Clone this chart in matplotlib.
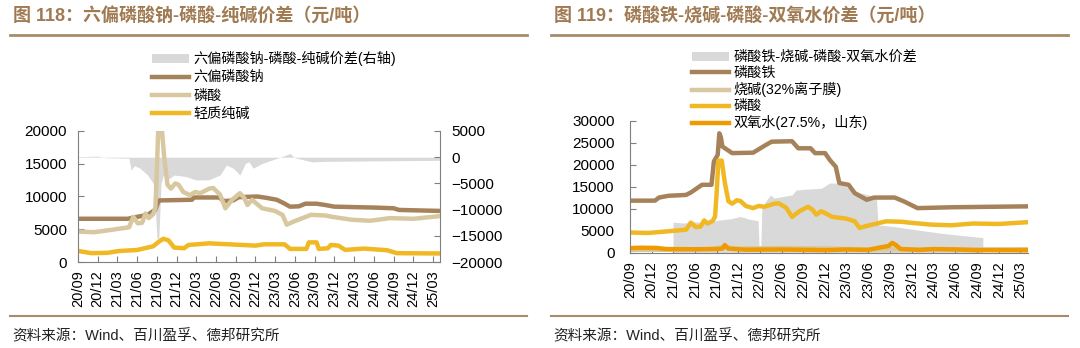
import matplotlib
matplotlib.use('Agg')
import matplotlib.pyplot as plt
import matplotlib.dates as mdates
from matplotlib.patches import Patch
from matplotlib.lines import Line2D
import pandas as pd

plt.rcParams['font.family'] = ['Liberation Sans', 'Noto Sans CJK SC']

# ---------------- data: left chart (图118) ----------------
shmp_dates = ['2020-09-01', '2021-04-20', '2021-05-10', '2021-07-20', '2021-08-25', '2021-09-05',
              '2021-09-12', '2022-02-10', '2022-02-20', '2022-06-15', '2022-07-10', '2022-08-20',
              '2022-09-15', '2022-12-10', '2023-01-20', '2023-03-10', '2023-04-10', '2023-05-10',
              '2023-06-20', '2023-07-20', '2023-09-10', '2023-10-20', '2023-12-01', '2024-06-15',
              '2024-09-01', '2024-09-25', '2025-03-31']
shmp_vals = [6600, 6600, 6750, 7200, 8000, 9000, 9400, 9500, 9850, 9850, 9300, 9400,
             9900, 10000, 9800, 9500, 9000, 8450, 8500, 8900, 8900, 8700, 8450, 8300,
             8200, 7950, 7800]

pa_dates = ['2020-09-01', '2020-11-15', '2021-02-01', '2021-04-15', '2021-04-25', '2021-05-15',
            '2021-06-05', '2021-06-25', '2021-07-10', '2021-07-25', '2021-08-15', '2021-08-25',
            '2021-09-01', '2021-09-08', '2021-09-22', '2021-10-05', '2021-10-20', '2021-11-05',
            '2021-11-25', '2021-12-10', '2022-01-01', '2022-02-01', '2022-02-25', '2022-03-20',
            '2022-05-01', '2022-05-20', '2022-06-20', '2022-07-15', '2022-08-15', '2022-09-20',
            '2022-10-10', '2022-10-25', '2022-11-15', '2023-01-01', '2023-03-01', '2023-04-05',
            '2023-04-25', '2023-05-25', '2023-08-15', '2023-10-20', '2023-11-20', '2024-02-20',
            '2024-05-15', '2024-08-15', '2024-12-01', '2025-03-31']
pa_vals = [4650, 4550, 4900, 5250, 5300, 6900, 5900, 6000, 7400, 6700, 7300, 8300,
           14000, 21000, 21000, 16000, 11800, 11200, 12000, 11800, 10700, 10200, 10700, 10500,
           11200, 11300, 10300, 8200, 9500, 10500, 9800, 8700, 9500, 8200, 7800, 7200,
           5700, 6150, 7200, 7100, 6900, 6450, 6300, 6700, 6600, 7000]

soda_dates = ['2020-09-01', '2020-11-01', '2021-01-15', '2021-03-10', '2021-06-01', '2021-08-15',
              '2021-09-10', '2021-10-01', '2021-10-25', '2021-11-20', '2022-01-05', '2022-01-25',
              '2022-05-01', '2022-12-01', '2023-01-10', '2023-04-15', '2023-05-10', '2023-07-25',
              '2023-08-05', '2023-09-10', '2023-09-20', '2023-11-01', '2023-11-15', '2023-12-20',
              '2024-01-20', '2024-04-15', '2024-08-01', '2024-09-15', '2025-03-31']
soda_vals = [1700, 1350, 1400, 1680, 1830, 2400, 3100, 3550, 3300, 2200, 2100, 2600,
             2850, 2500, 2700, 2700, 2000, 2000, 3000, 3000, 2000, 2100, 2600, 2500,
             1850, 2050, 1800, 1350, 1300]

spread1_dates = ['2020-09-01', '2020-12-01', '2021-01-10', '2021-04-25', '2021-05-05', '2021-05-20',
                 '2021-06-15', '2021-07-20', '2021-08-20', '2021-09-01', '2021-09-10', '2021-09-20',
                 '2021-10-01', '2021-10-20', '2021-11-20', '2022-01-15', '2022-03-01', '2022-05-01',
                 '2022-06-20', '2022-07-20', '2022-08-20', '2022-09-20', '2022-10-15', '2022-11-01',
                 '2022-11-20', '2023-01-01', '2023-03-25', '2023-05-10', '2023-06-01', '2023-08-20',
                 '2023-10-15', '2024-06-01', '2025-03-31']
spread1_vals = [100, 200, -100, -200, -2500, -1600, -2100, -3400, -5300, -15500, -15500, -5000,
                -3400, -4300, -3400, -3700, -4350, -4300, -3400, -1500, -2100, -3400, -1200, -860,
                -2100, -1200, 0, 700, -100, -900, -800, -700, -600]

# ---------------- data: right chart (图119) ----------------
lfp_dates = ['2020-09-01', '2020-12-15', '2021-01-01', '2021-02-10', '2021-04-25', '2021-05-15',
             '2021-07-01', '2021-08-10', '2021-08-20', '2021-09-05', '2021-09-12', '2021-09-18',
             '2021-09-25', '2021-11-05', '2022-02-01', '2022-03-25', '2022-04-20', '2022-07-15',
             '2022-08-10', '2022-10-01', '2022-10-20', '2022-12-01', '2022-12-20', '2023-01-15',
             '2023-01-30', '2023-03-10', '2023-04-05', '2023-05-25', '2023-06-25', '2023-09-20',
             '2023-10-30', '2023-12-25', '2024-05-20', '2025-03-31']
lfp_vals = [11900, 11900, 12600, 13000, 13200, 13750, 15500, 15500, 20800, 22300, 27200, 26400,
            24200, 22700, 22800, 24500, 25300, 25400, 23800, 23800, 22700, 22700, 21200, 19600,
            15900, 15500, 13600, 12100, 12600, 12600, 11700, 10200, 10400, 10600]

naoh_dates = ['2020-09-01', '2021-03-01', '2021-08-01', '2021-10-01', '2021-12-01', '2022-06-01',
              '2022-12-01', '2023-03-01', '2023-06-01', '2023-09-01', '2024-03-01', '2025-03-31']
naoh_vals = [700, 750, 900, 1300, 1000, 1100, 1050, 900, 800, 850, 800, 850]

h2o2_dates = ['2020-09-01', '2020-10-15', '2020-12-20', '2021-02-01', '2021-06-01', '2021-09-01',
              '2021-09-25', '2021-10-05', '2021-10-20', '2022-01-01', '2022-06-01', '2022-12-01',
              '2023-03-01', '2023-06-01', '2023-07-15', '2023-08-25', '2023-09-10', '2023-09-25',
              '2023-10-15', '2024-01-01', '2024-03-01', '2024-06-01', '2024-09-01', '2025-03-31']
h2o2_vals = [1100, 1200, 1150, 900, 850, 900, 1000, 1800, 1000, 750, 800, 650,
             800, 700, 1200, 1600, 2300, 1800, 900, 700, 900, 800, 650, 600]

spread2_dates = ['2021-03-01', '2021-04-15', '2021-06-01', '2021-07-20', '2021-09-01', '2021-11-01',
                 '2021-12-10', '2022-01-15', '2022-02-15', '2022-02-22', '2022-02-27', '2022-03-05',
                 '2022-03-10', '2022-04-15', '2022-05-01', '2022-07-15', '2022-08-01', '2022-09-10',
                 '2022-11-15', '2022-12-20', '2023-02-01', '2023-04-05', '2023-06-01', '2023-07-05',
                 '2023-07-12', '2023-09-20', '2023-12-15', '2024-04-01', '2024-06-25', '2024-09-25']
spread2_vals = [7000, 6800, 7100, 6900, 7400, 7800, 8300, 7700, 7400, 7400, 0, 0,
                10500, 13200, 12500, 13200, 14300, 14500, 14700, 15900, 15900, 14000, 13200, 12500,
                6400, 6000, 5300, 4500, 4000, 3500]

ticks = pd.date_range('2020-09-01', '2025-03-01', freq='3MS')

C_DARK = '#A5825A'
C_TAN = '#D8C8A0'
C_YEL = '#F0B823'
C_ORG = '#EE9A00'
C_GREY = '#D9D9D9'
C_TITLE = '#A07A52'
C_RULE = '#A88B6A'
C_AX = '#7F7F7F'
LW = 3.2

W, H = 1080, 348
fig = plt.figure(figsize=(W / 100, H / 100), dpi=100)


def px_ax(l, t, r, b):
    return fig.add_axes([l / W, 1 - b / H, (r - l) / W, (b - t) / H])


def d(lst):
    return pd.to_datetime(lst)


def style_dates(ax):
    ax.set_xlim(pd.Timestamp('2020-09-01'), pd.Timestamp('2025-04-03'))
    ax.set_xticks(ticks)
    ax.xaxis.set_major_formatter(mdates.DateFormatter('%y/%m'))
    ax.tick_params(axis='x', direction='in', length=4, color=C_AX, labelsize=10.5,
                   labelrotation=90, pad=6)
    ax.tick_params(axis='y', direction='in', length=4, color=C_AX, labelsize=11, pad=8)
    for s in ['top', 'right']:
        ax.spines[s].set_visible(False)
    for s in ['left', 'bottom']:
        ax.spines[s].set_color(C_AX)
        ax.spines[s].set_linewidth(0.8)


# ---------- header / footer ----------
for x0, x1, title in [(10, 527, '图 118：六偏磷酸钠-磷酸-纯碱价差（元/吨）'),
                      (551, 1068, '图 119：磷酸铁-烧碱-磷酸-双氧水价差（元/吨）')]:
    fig.text(x0 / W + 0.003, 1 - 17 / H, title, fontsize=13, fontweight='bold',
             color=C_TITLE, va='center', ha='left')
    fig.add_artist(Line2D([x0 / W, x1 / W], [1 - 35 / H, 1 - 35 / H], color=C_RULE, lw=2))
    fig.add_artist(Line2D([x0 / W, x1 / W], [1 - 316 / H, 1 - 316 / H], color=C_RULE, lw=1.5))
    fig.text(x0 / W + 0.002, 1 - 336 / H, '资料来源：Wind、百川盈孚、德邦研究所',
             fontsize=10.5, color='#222222', va='center', ha='left')

# ---------- left chart ----------
ax1 = px_ax(78, 131, 440, 262)
ax1r = ax1.twinx()
ax1.set_zorder(ax1r.get_zorder() + 1)
ax1.patch.set_visible(False)

ax1r.fill_between(d(spread1_dates), spread1_vals, 0, color=C_GREY, lw=0)
ax1r.set_ylim(-20000, 5000)
ax1r.set_yticks(range(-20000, 5001, 5000))
ax1r.tick_params(axis='y', direction='in', length=4, color=C_AX, labelsize=11, pad=8)
for s in ['top', 'left', 'bottom']:
    ax1r.spines[s].set_visible(False)
ax1r.spines['right'].set_color(C_AX)
ax1r.spines['right'].set_linewidth(0.8)

ax1.plot(d(shmp_dates), shmp_vals, color=C_DARK, lw=LW)
ax1.plot(d(pa_dates), pa_vals, color=C_TAN, lw=LW)
ax1.plot(d(soda_dates), soda_vals, color=C_YEL, lw=LW)
ax1.set_ylim(0, 20000)
ax1.set_yticks(range(0, 20001, 5000))
style_dates(ax1)

h1 = [Patch(color=C_GREY, lw=0), Line2D([], [], color=C_DARK, lw=LW),
      Line2D([], [], color=C_TAN, lw=LW), Line2D([], [], color=C_YEL, lw=LW)]
l1 = ['六偏磷酸钠-磷酸-纯碱价差(右轴)', '六偏磷酸钠', '磷酸', '轻质纯碱']
fig.legend(h1, l1, loc='upper left', bbox_to_anchor=(152 / W, 1 - 51 / H), frameon=False,
           fontsize=10.2, handlelength=2.6, handleheight=0.6, handletextpad=0.3,
           labelspacing=0.3, borderaxespad=0, borderpad=0)

# ---------- right chart ----------
ax2 = px_ax(630, 121, 1028, 253)
ax2.fill_between(d(spread2_dates), spread2_vals, 0, color=C_GREY, lw=0)
ax2.plot(d(lfp_dates), lfp_vals, color=C_DARK, lw=LW)
ax2.plot(d(naoh_dates), naoh_vals, color=C_TAN, lw=LW)
ax2.plot(d(pa_dates), pa_vals, color=C_YEL, lw=LW)
ax2.plot(d(h2o2_dates), h2o2_vals, color=C_ORG, lw=LW)
ax2.set_ylim(0, 30000)
ax2.set_yticks(range(0, 30001, 5000))
style_dates(ax2)
ax2.tick_params(axis='y', pad=11)

h2 = [Patch(color=C_GREY, lw=0), Line2D([], [], color=C_DARK, lw=LW),
      Line2D([], [], color=C_TAN, lw=LW), Line2D([], [], color=C_YEL, lw=LW),
      Line2D([], [], color=C_ORG, lw=LW)]
l2 = ['磷酸铁-烧碱-磷酸-双氧水价差', '磷酸铁', '烧碱(32%离子膜)', '磷酸', '双氧水(27.5%，山东)']
fig.legend(h2, l2, loc='upper left', bbox_to_anchor=(692 / W, 1 - 50 / H), frameon=False,
           fontsize=10.2, handlelength=2.6, handleheight=0.6, handletextpad=0.3,
           labelspacing=0.14, borderaxespad=0, borderpad=0)

fig.savefig('out.png', dpi=100)
